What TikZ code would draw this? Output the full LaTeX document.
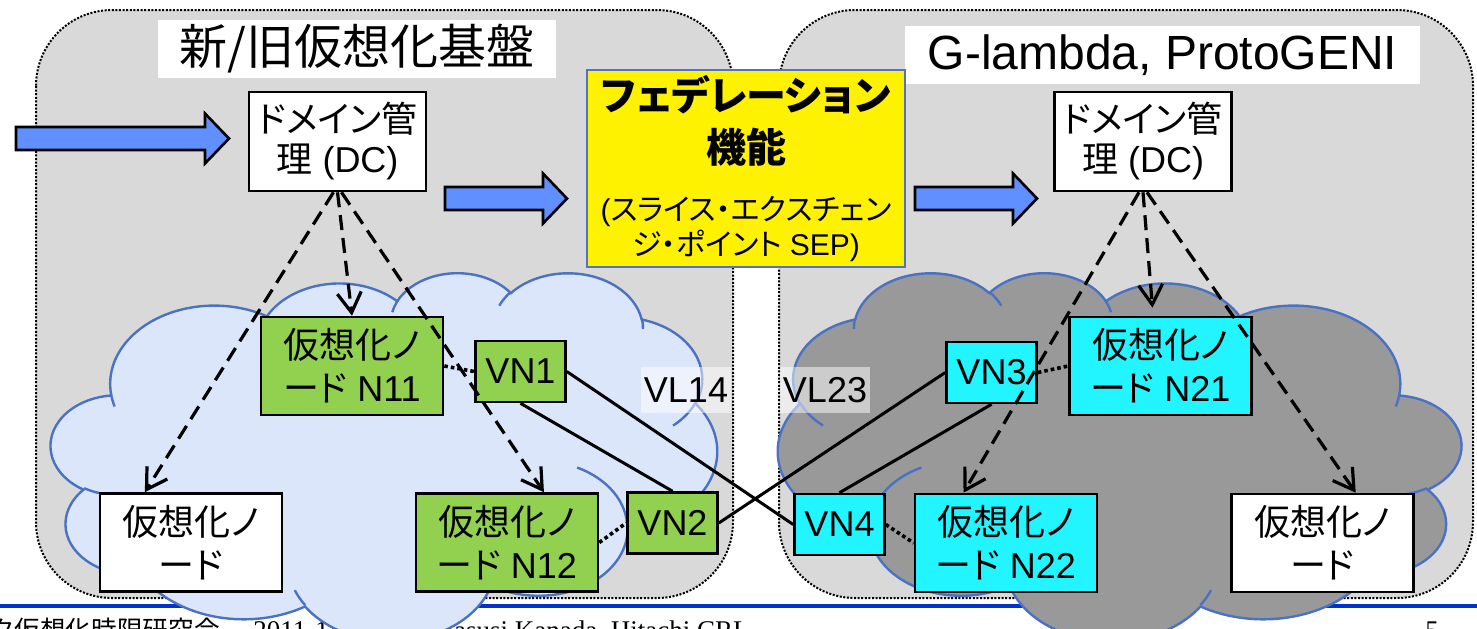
\documentclass[tikz,border=0pt]{standalone}
\usepackage{fontspec}
\setmainfont{Liberation Sans}
\newfontfamily\jp[RawFeature=+palt]{Noto Sans CJK JP}
\newfontfamily\jpfoot{Noto Sans CJK JP}
\newfontfamily\tms{Liberation Serif}
\usetikzlibrary{arrows.meta,calc}

\definecolor{regiongray}{HTML}{D9D9D9}
\definecolor{cloudblue}{HTML}{DCE6FA}
\definecolor{cloudgray}{HTML}{999999}
\definecolor{cloudedge}{HTML}{4A72C4}
\definecolor{nodegreen}{HTML}{92D050}
\definecolor{nodecyan}{HTML}{22F5FF}
\definecolor{arrowblue}{HTML}{6090FF}
\definecolor{sepedge}{HTML}{4F74C4}
\definecolor{footerblue}{HTML}{0033CC}

% one lobe of the cloud outline: x radius, y radius, start angle, sweep
\def\puff#1#2#3#4{arc[x radius=#1, y radius=#2, start angle={atan2(#1*sin(#3),#2*cos(#3))}, delta angle={mod(atan2(#1*sin(#3+#4),#2*cos(#3+#4))-atan2(#1*sin(#3),#2*cos(#3))+720,360)}]}
\def\cloudmain{(39.00,143.70) \puff{67.53}{91.90}{-190.4875}{123.7805} \puff{53.33}{72.67}{-144.1024}{89.9452} \puff{43.65}{59.45}{-145.8079}{99.7230} \puff{48.57}{65.95}{-130.9861}{117.2417} \puff{53.33}{72.73}{-78.7089}{109.0269} \puff{67.75}{92.20}{-46.2673}{130.2690} \puff{57.85}{78.67}{0.6250}{114.0333} \puff{67.52}{92.15}{22.4516}{115.1726} \puff{77.20}{105.43}{66.2426}{75.7110} \puff{43.60}{59.18}{-274.9421}{146.7356} \puff{43.45}{59.45}{-246.8285}{152.5189} -- cycle}
\def\cloudinner{(46.93,261.77) \puff{43.45}{59.45}{86.7420}{26.4295} (69.28,348.99) \puff{43.60}{59.18}{73.6105}{11.4475} (164.78,390.90) \puff{67.52}{92.15}{137.6242}{14.0811} (288.27,347.51) \puff{67.52}{92.15}{6.4533}{15.9984} (341.29,229.54) \puff{57.85}{78.67}{-70.2924}{70.9174} (417.98,153.54) \puff{53.33}{72.73}{30.3180}{27.7515} (383.24,54.26) \puff{48.57}{65.95}{-13.7443}{14.8589} (290.78,39.52) \puff{48.57}{65.95}{-149.1815}{18.1954} (221.41,47.20) \puff{43.65}{59.45}{-163.4943}{17.6864} (140.00,51.92) \puff{67.53}{91.90}{-66.7070}{12.3194} (41.27,157.89) \puff{67.53}{91.90}{157.6544}{11.8582}}
% block arrow: left end, tip, middle height
\def\bigarrow#1#2#3{\draw[blockarrow] (#1,#3-11.5) -- (#2-24,#3-11.5) -- (#2-24,#3-25) -- (#2,#3) -- (#2-24,#3+25) -- (#2-24,#3+11.5) -- (#1,#3+11.5) -- cycle;}

\tikzset{
  region/.style={fill=regiongray, draw=black, line width=1pt, dash pattern=on 1pt off 0.8pt, rounded corners=38pt},
  cloudline/.style={draw=cloudedge, line width=1.2pt},
  titlebox/.style={fill=white, inner sep=0pt, minimum height=29pt},
  dcbox/.style={draw, line width=1.3pt, fill=white, minimum width=88.5pt, minimum height=49.5pt, inner sep=1pt, align=center, font=\fontsize{18}{20}\selectfont},
  sepbox/.style={draw=sepedge, line width=1pt, fill=yellow, minimum width=159pt, minimum height=98.5pt, inner sep=0pt, align=center, font=\fontsize{15}{26}\selectfont},
  vnode/.style={draw, line width=1.3pt, minimum width=91pt, minimum height=49pt, inner sep=1pt, align=center, font=\fontsize{18}{21.5}\selectfont},
  vnbox/.style={draw, line width=1.3pt, minimum width=45pt, minimum height=30.5pt, inner sep=1pt, font=\fontsize{18}{20}\selectfont},
  vllabel/.style={fill=white, fill opacity=0.5, text opacity=1, minimum width=45pt, minimum height=23pt, inner sep=0pt, font=\fontsize{18}{20}\selectfont},
  blockarrow/.style={fill=arrowblue, draw=black, line width=1.3pt},
  mgmt/.style={line width=1.6pt, dash pattern=on 7.5pt off 4pt, -{Straight Barb[length=10pt,width=12pt]}},
  vlink/.style={line width=1.5pt},
  attach/.style={line width=1.8pt, dash pattern=on 1.8pt off 1.5pt},
  footer/.style={inner sep=0pt, anchor=base west, font=\fontsize{13.5}{16}\selectfont\tms}
}

\begin{document}
\begin{tikzpicture}[x=0.5pt, y=-0.5pt]
	%%%%% FRAME %%%%%
	\useasboundingbox (0,0) rectangle (1477,628);
	\clip (0,0) rectangle (1477,628);
	
	\draw[region] (36,10) rectangle (733,598);
	\draw[region] (779,10) rectangle (1473,598);
	
	\draw[footerblue, line width=2pt] (0,606) -- (1477,606);
	\node[footer, anchor=base east, font=\fontsize{12.8}{16}\selectfont\jpfoot] (ftgroup) at (220,639) {ク仮想化時限研究会};
	\node[footer] (ftdate) at (253,639) {2011-11};
	\node[footer] (ftauthor) at (437,639) {Yasusi Kanada, Hitachi CRL};
	\node[footer] (ftpage) at (1425,639) {5};
	
	%%%%% CLOUDS %%%%%
	\begin{scope}[shift={(51,272)}, x=0.77083pt, y=-0.42593pt]
		\filldraw[cloudline, fill=cloudblue] \cloudmain;
		\draw[cloudline] \cloudinner;
	\end{scope}
	\begin{scope}[shift={(1461,272)}, x=-0.79051pt, y=-0.42593pt]
		\filldraw[cloudline, fill=cloudgray] \cloudmain;
		\draw[cloudline] \cloudinner;
	\end{scope}
	
	%%%%% TOP %%%%%
	\node[titlebox, minimum width=199pt, font=\jp\fontsize{24}{28}\selectfont] (titleL) at (357,49) {新/旧仮想化基盤};
	\node[titlebox, minimum width=257.5pt, font=\fontsize{24}{28}\selectfont] (titleR) at (1162.5,55) {G-lambda, ProtoGENI};
	
	\node[dcbox] (dcL) at (337.5,141.5) {{\jp ドメイン管}\\{\jp 理} (DC)};
	\node[dcbox] (dcR) at (1143,141.5) {{\jp ドメイン管}\\{\jp 理} (DC)};
	
	\node[sepbox] (sep) at (746,168.5) {{\jp\bfseries\fontsize{20}{26}\selectfont フェデレーション}\\{\jp\bfseries\fontsize{20}{26}\selectfont 機能}\\[3pt](\jp スライス・エクスチェン\\[-8.5pt]{\jp ジ・ポイント} SEP)};
	
	\bigarrow{16}{229}{138.5}
	\bigarrow{445}{567}{198.5}
	\bigarrow{915}{1037}{198.5}
	
	%%%%% NODES %%%%%
	\node[vnode, fill=nodegreen] (n11) at (352,366) {{\jp 仮想化ノ}\\{\jp ード} N11};
	\node[vnbox, fill=nodegreen] (vn1) at (520.5,371.5) {VN1};
	\node[vnode, fill=white] (nodeL) at (191,542.5) {{\jp 仮想化ノ}\\{\jp ード}};
	\node[vnode, fill=nodegreen] (n12) at (507,542.5) {{\jp 仮想化ノ}\\{\jp ード} N12};
	\node[vnbox, fill=nodegreen] (vn2) at (672.5,523) {VN2};
	
	\node[vnbox, fill=nodecyan] (vn3) at (991.5,372.5) {VN3};
	\node[vnode, fill=nodecyan] (n21) at (1160.5,366) {{\jp 仮想化ノ}\\{\jp ード} N21};
	\node[vnbox, fill=nodecyan] (vn4) at (839.5,524.5) {VN4};
	\node[vnode, fill=nodecyan] (n22) at (1006,543) {{\jp 仮想化ノ}\\{\jp ード} N22};
	\node[vnode, fill=white] (nodeR) at (1322.5,543) {{\jp 仮想化ノ}\\{\jp ード}};
	
	\node[vllabel] (vl14) at (686,390) {VL14};
	\node[vllabel] (vl23) at (825,390) {VL23};
	
	%%%%% LINKS %%%%%
	\draw[mgmt] ($(dcL.south)+(-4,0)$) -- ($(nodeL.north west)!0.25!(nodeL.north east)$);
	\draw[mgmt] (dcL.south) -- (n11.north);
	\draw[mgmt] ($(dcL.south)+(4,0)$) -- ($(n12.north west)!0.7!(n12.north east)$);
	\draw[mgmt] ($(dcR.south)+(-4,0)$) -- ($(n22.north west)!0.27!(n22.north east)$);
	\draw[mgmt] (dcR.south) -- ($(n21.north)+(-8,-8)$);
	\draw[mgmt] ($(dcR.south)+(4,0)$) -- ($(nodeR.north west)!0.68!(nodeR.north east)$);
	
	\draw[vlink] (vn1.east) -- (vn4.west);
	\draw[vlink] (vn1.south) -- (vn2.north);
	\draw[vlink] (vn2.east) -- (vn3.west);
	\draw[vlink] (vn3.south) -- (vn4.north);
	
	\draw[attach] (n11.east) -- (vn1.west);
	\draw[attach] (n12.east) -- (vn2.west);
	\draw[attach] (vn3.east) -- (n21.west);
	\draw[attach] (vn4.east) -- (n22.west);
\end{tikzpicture}
\end{document}
